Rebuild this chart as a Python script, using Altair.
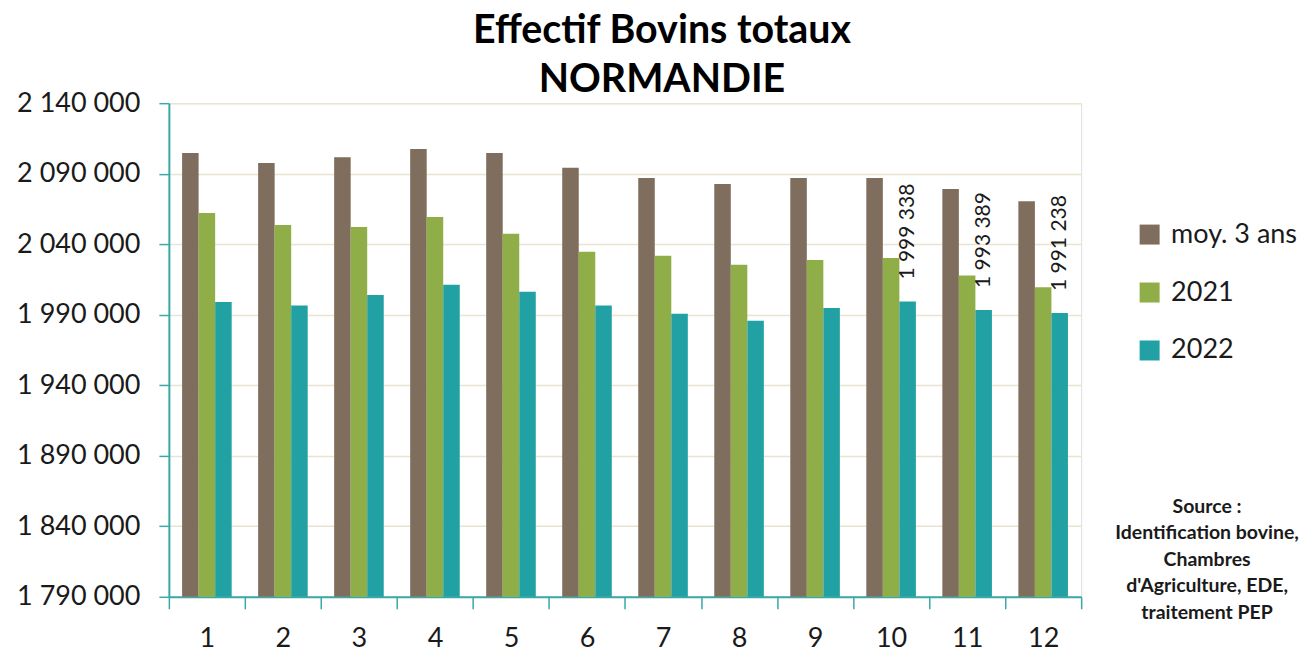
import altair as alt
import pandas as pd

months = ["1", "2", "3", "4", "5", "6", "7", "8", "9", "10", "11", "12"]
series = ["moy. 3 ans", "2021", "2022"]
moy3 = [2104700, 2097600, 2101600, 2107500, 2104700, 2094300,
        2086900, 2082700, 2086900, 2086900, 2079100, 2070400]
y2021 = [2062100, 2053600, 2052200, 2059300, 2047500, 2034700,
         2031900, 2025500, 2028800, 2030200, 2017900, 2009400]
y2022 = [1999000, 1996600, 2004000, 2011300, 2006300, 1996600,
         1990700, 1985700, 1994700, 1999338, 1993389, 1991238]
labelled_months = ["10", "11", "12"]
colors = ["#7F6E5D", "#8FAE48", "#21A1A3"]
y_min, y_max = 1790000, 2140000
y_ticks = [1790000, 1840000, 1890000, 1940000, 1990000, 2040000, 2090000, 2140000]
title_lines = ["Effectif Bovins totaux", "NORMANDIE"]
source_lines = ["Source :", "Identification bovine,", "Chambres",
                "d'Agriculture, EDE,", "traitement PEP"]

rows = []
for name, vals in zip(series, [moy3, y2021, y2022]):
    for m, v in zip(months, vals):
        rows.append({"mois": m, "serie": name, "valeur": v})
df = pd.DataFrame(rows)

FONT = "Lato"
TEAL = "#3AA8A8"
fmt = "replace(format(datum.value, ','), regexp(',', 'g'), ' ')"

x_enc = alt.X("mois:N", sort=months,
              scale=alt.Scale(domain=months, paddingInner=0, paddingOuter=0),
              axis=alt.Axis(title=None, labelAngle=0, tickBand="extent",
                            domainColor=TEAL, domainWidth=2, tickColor=TEAL,
                            tickWidth=1.5, tickSize=12, labelPadding=17,
                            labelFontSize=27, labelFont=FONT, labelColor="#1a1a1a"))
xo_enc = alt.XOffset("serie:N", sort=series,
                     scale=alt.Scale(domain=series, paddingInner=0, paddingOuter=0.8))
y_enc = alt.Y("valeur:Q",
              scale=alt.Scale(domain=[y_min, y_max], nice=False, zero=False),
              axis=alt.Axis(title=None, values=y_ticks, labelExpr=fmt,
                            domainColor=TEAL, domainWidth=2, tickColor=TEAL,
                            tickWidth=1.5, tickSize=10, labelPadding=19,
                            labelFontSize=27, labelFont=FONT, labelColor="#1a1a1a",
                            grid=True, gridColor="#EAE3CF", gridWidth=1.5))

bars = alt.Chart(df).mark_bar().encode(
    x=x_enc,
    xOffset=xo_enc,
    y=y_enc,
    y2=alt.datum(y_min),
    color=alt.Color("serie:N", sort=series,
                    scale=alt.Scale(domain=series, range=colors),
                    legend=alt.Legend(title=None, orient="none", legendX=968, legendY=118,
                                      symbolType="square", symbolSize=400,
                                      symbolStrokeWidth=0, labelFontSize=27,
                                      labelFont=FONT, labelColor="#1a1a1a",
                                      rowPadding=30, labelOffset=8, padding=0)),
)

labels = alt.Chart(df).transform_filter(
    alt.FieldOneOfPredicate(field="mois", oneOf=labelled_months)
).transform_filter(
    alt.datum.serie == "2022"
).transform_calculate(
    lab="replace(format(datum.valeur, ','), regexp(',', 'g'), ' ')"
).mark_text(angle=270, align="left", baseline="middle", dx=22,
            fontSize=21, font=FONT, color="#1a1a1a").encode(
    x=x_enc, xOffset=xo_enc, y=y_enc, text="lab:N")

src = alt.Chart(pd.DataFrame({"src": ["\n".join(source_lines)]})).mark_text(
    lineBreak="\n", align="center", baseline="top", fontSize=19.5,
    fontWeight="bold", font=FONT, lineHeight=26.5, color="#1a1a1a"
).encode(x=alt.value(1039), y=alt.value(395), text="src:N")

chart = alt.layer(bars, labels, src).properties(
    width=913, height=494,
    padding={"left": 8, "top": 2, "right": 0, "bottom": 0},
    title=alt.TitleParams(text=title_lines, fontSize=39.4, font=FONT,
                          fontWeight="bold", lineHeight=49, anchor="middle",
                          dx=37, offset=-11, color="black"),
).configure_view(stroke=None).configure(background="white")

chart.save("out.html", embed_options={"renderer": "svg", "actions": False})
